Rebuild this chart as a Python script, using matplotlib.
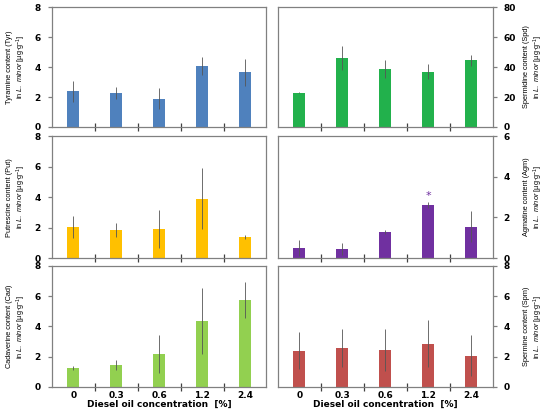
import matplotlib.pyplot as plt
import numpy as np

# Diesel oil concentrations [%]
conc = ["0", "0.3", "0.6", "1.2", "2.4"]

tyr = [2.4, 2.25, 1.9, 4.1, 3.65]
tyr_err = [0.7, 0.4, 0.7, 0.6, 0.9]
spd = [23.0, 46.0, 39.0, 37.0, 44.5]
spd_err = [0.5, 8.0, 6.0, 5.0, 3.5]
put = [2.05, 1.85, 1.9, 3.9, 1.4]
put_err = [0.7, 0.45, 1.25, 2.0, 0.12]
agm = [0.5, 0.45, 1.3, 2.6, 1.55]
agm_err = [0.4, 0.3, 0.1, 0.15, 0.75]
cad = [1.25, 1.45, 2.15, 4.35, 5.75]
cad_err = [0.15, 0.3, 1.25, 2.2, 1.2]
spm = [2.4, 2.6, 2.45, 2.85, 2.05]
spm_err = [1.2, 1.25, 1.4, 1.55, 1.35]

panels = [
    # values, errors, colour, ymax, step, name, side
    (tyr, tyr_err, "#4F81BD", 8, 2, "Tyramine content (Tyr)", "left"),
    (spd, spd_err, "#22B14C", 80, 20, "Spermidine content (Spd)", "right"),
    (put, put_err, "#FFC000", 8, 2, "Putrescine content (Put)", "left"),
    (agm, agm_err, "#7030A0", 6, 2, "Agmatine content (Agm)", "right"),
    (cad, cad_err, "#92D050", 8, 2, "Cadaverine content (Cad)", "left"),
    (spm, spm_err, "#C0504D", 8, 2, "Spermine content (Spm)", "right"),
]

plt.rcParams['mathtext.fontset'] = 'custom'
plt.rcParams['mathtext.it'] = 'Liberation Sans:italic'
plt.rcParams['mathtext.rm'] = 'Liberation Sans'

fig = plt.figure(figsize=(5.5, 4.15), dpi=100)

lefts = [0.0945, 0.5055]
width = 0.39
bottoms = [0.694, 0.378, 0.0675]
heights = [0.289, 0.294, 0.292]

x = np.arange(len(conc))
spine_col = "#808080"
narrow = ["Liberation Sans Narrow", "Liberation Sans", "DejaVu Sans"]

for i, (vals, errs, col, ymax, step, name, side) in enumerate(panels):
    row, c = divmod(i, 2)
    ax = fig.add_axes([lefts[c], bottoms[row], width, heights[row]])
    ax.bar(x, vals, width=0.28, color=col, zorder=2)
    ax.errorbar(x, vals, yerr=errs, fmt="none", ecolor="#555555",
                elinewidth=0.6, capsize=0, zorder=3)
    ax.set_xlim(-0.5, len(conc) - 0.5)
    ax.set_ylim(0, ymax)
    ax.set_yticks(np.arange(0, ymax + 1, step))
    for s in ax.spines.values():
        s.set_color(spine_col)
        s.set_linewidth(0.9)

    # Excel-style category boundary ticks
    ax.set_xticks(x)
    ax.set_xticks(np.arange(0.5, len(conc) - 0.5, 1), minor=True)
    ax.tick_params(axis="x", which="major", length=0, pad=3)
    ax.tick_params(axis="x", which="minor", direction="inout", length=6,
                   width=0.9, color="#404040")
    if row == 2:
        ax.set_xticklabels(conc, fontsize=6.5, fontweight="bold")
        ax.set_xlabel("Diesel oil concentration  [%]", fontsize=6.5,
                      fontweight="bold", labelpad=0)
    else:
        ax.set_xticklabels([])

    label = name + "\nin $\\it{L.\\ minor}$ [µg·g$^{-1}$]"
    if side == "right":
        ax.yaxis.tick_right()
        ax.yaxis.set_label_position("right")
        ax.tick_params(axis="y", which="both", left=False)
    ax.tick_params(axis="y", direction="out", length=3, width=0.9,
                   color=spine_col, labelsize=6.5, pad=5)
    for t in ax.get_yticklabels():
        t.set_fontweight("bold")
    ax.set_ylabel(label, fontsize=5.3, family=narrow, linespacing=1.2)
    if side == "right":
        ax.yaxis.set_label_coords(1.14, 0.5)
    else:
        ax.yaxis.set_label_coords(-0.112, 0.5)

    if name.startswith("Agmatine"):
        ax.text(3, vals[3] + errs[3] + 0.05, "*", color=col,
                ha="center", va="bottom", fontsize=8)

fig.savefig("out.png", dpi=100)
